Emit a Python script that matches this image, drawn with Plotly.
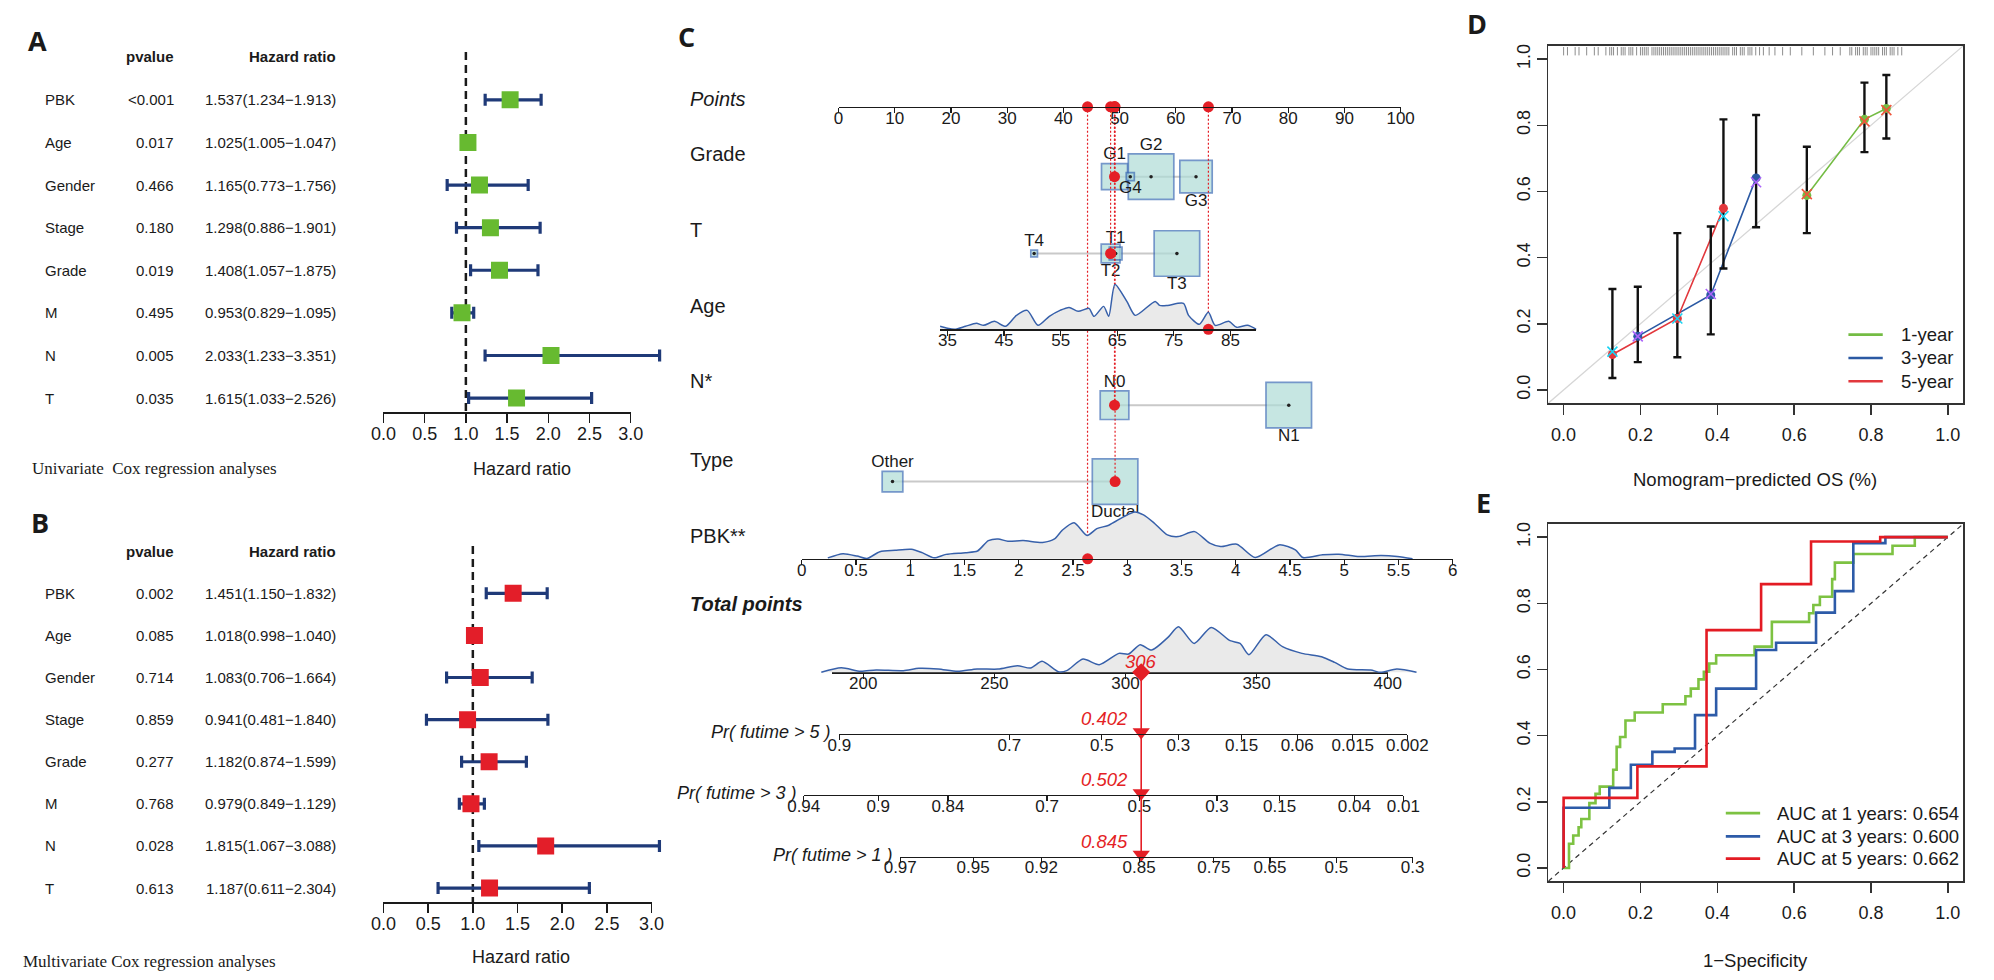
import math
import plotly.graph_objects as go

W, H = 1994, 980

# ============================ DATA ============================
# ---- A / B : Cox regression ----
variables = ["PBK", "Age", "Gender", "Stage", "Grade", "M", "N", "T"]
uni_pvalue = ["<0.001", "0.017", "0.466", "0.180", "0.019", "0.495", "0.005", "0.035"]
uni_hr = [1.537, 1.025, 1.165, 1.298, 1.408, 0.953, 2.033, 1.615]
uni_low = [1.234, 1.005, 0.773, 0.886, 1.057, 0.829, 1.233, 1.033]
uni_high = [1.913, 1.047, 1.756, 1.901, 1.875, 1.095, 3.351, 2.526]
multi_pvalue = ["0.002", "0.085", "0.714", "0.859", "0.277", "0.768", "0.028", "0.613"]
multi_hr = [1.451, 1.018, 1.083, 0.941, 1.182, 0.979, 1.815, 1.187]
multi_low = [1.150, 0.998, 0.706, 0.481, 0.874, 0.849, 1.067, 0.611]
multi_high = [1.832, 1.040, 1.664, 1.840, 1.599, 1.129, 3.088, 2.304]
hr_ticks = [0.0, 0.5, 1.0, 1.5, 2.0, 2.5, 3.0]

# ---- C : nomogram ----
points_ticks = [0, 10, 20, 30, 40, 50, 60, 70, 80, 90, 100]
grade_levels = ["G1", "G4", "G2", "G3"]
grade_points = [49.1, 51.9, 55.6, 63.6]
grade_counts = [31, 3, 95, 48]
t_levels = ["T4", "T2", "T1", "T3"]
t_points = [34.8, 48.4, 49.3, 60.2]
t_counts = [3, 24, 11, 141]
n_levels = ["N0", "N1"]
n_points = [49.1, 80.1]
n_counts = [49, 124]
type_levels = ["Other", "Ductal"]
type_points = [9.6, 49.2]
type_counts = [30, 146]

age_ticks = [35, 45, 55, 65, 75, 85]
age_grid = [33.7, 35.0, 36.3, 38.2, 40.1, 41.4, 43.3, 45.3, 47.2, 49.1, 51.0, 53.0, 54.9, 56.5, 58.1,
            60.0, 60.9, 62.6, 63.5, 64.6, 66.7, 68.2, 71.7, 72.5, 73.9, 76.7, 77.6, 79.5, 81.1, 82.3,
            84.7, 86.1, 88.0, 89.6]
age_density = [3, 1, 0, 3, 6, 4, 8, 3, 14, 19, 4, 13, 19, 22, 18, 21, 13, 23, 13, 45, 28, 14, 28, 24,
               24, 26, 14, 5, 17, 4, 8, 2, 4, 0]

pbk_ticks = [0, 0.5, 1, 1.5, 2, 2.5, 3, 3.5, 4, 4.5, 5, 5.5, 6]
pbk_grid = [0.24, 0.38, 0.51, 0.60, 0.72, 0.86, 1.01, 1.11, 1.22, 1.33, 1.51, 1.62, 1.72, 1.81, 1.90,
            2.04, 2.22, 2.33, 2.40, 2.51, 2.63, 2.72, 2.83, 2.97, 3.07, 3.15, 3.25, 3.37, 3.47, 3.62,
            3.76, 3.86, 4.01, 4.18, 4.40, 4.55, 4.62, 4.80, 4.95, 5.14, 5.34, 5.49, 5.63]
pbk_density = [1, 5.2, 2.8, 0.3, 7.2, 8.6, 9.6, 6.2, 1, 4.5, 6.2, 7.9, 18.3, 20, 17.6, 18.3, 16.5, 20,
               28.6, 36.2, 23.4, 30.3, 33.7, 42.4, 47, 44, 35.7, 24, 22.3, 27.3, 15.7, 12.3, 14.7, 1.3,
               14, 9, 1.3, 4, 4.7, 2.3, 3.3, 2.3, 0]

total_ticks = [200, 250, 300, 350, 400]
total_grid = [184, 191.6, 199, 204.9, 215.3, 221.2, 228.6, 236, 243.4, 251.4, 258.8, 263.8, 268.2,
              274.4, 277.6, 283.8, 290, 297.5, 301.2, 305.6, 310, 316.2, 320.2, 326.2, 332.7, 339.9,
              343.7, 347.1, 353.6, 359.9, 367.3, 374.8, 379.8, 384.8, 393.5, 397.3, 403.5, 411]
total_density = [0, 4.5, 1, 2.4, 1.7, 4.1, 3.4, 1, 3.4, 3.3, 6.7, 4.3, 11, 0.7, 1.7, 13.3, 7.7, 19,
                 18.3, 27.7, 22.3, 35, 45.7, 29, 45, 31.7, 29, 17.7, 37.7, 25.7, 19, 15.7, 10, 3.3,
                 2.3, 0, 3.3, 0]

pr5_labels = ["0.9", "0.7", "0.5", "0.3", "0.15", "0.06", "0.015", "0.002"]
pr5_at_points = [190.9, 255.7, 291.0, 320.2, 344.3, 365.5, 386.7, 407.5]
pr3_labels = ["0.94", "0.9", "0.84", "0.7", "0.5", "0.3", "0.15", "0.04", "0.01"]
pr3_at_points = [177.3, 205.7, 232.3, 270.1, 305.3, 334.9, 358.8, 387.3, 406.0]
pr1_labels = ["0.97", "0.95", "0.92", "0.85", "0.75", "0.65", "0.5", "0.3"]
pr1_at_points = [214.1, 241.9, 267.9, 305.2, 333.7, 355.1, 380.4, 409.5]

patient_vars = ["Grade", "T", "Age", "N", "Type", "PBK"]
patient_points = [49.1, 48.4, 65.8, 49.1, 49.2, 44.3]
patient_age = 81.1
patient_pbk = 2.635
patient_total = 306
patient_prob = [0.402, 0.502, 0.845]

# ---- D : calibration ----
cal_ticks = [0.0, 0.2, 0.4, 0.6, 0.8, 1.0]
cal_names = ["1-year", "3-year", "5-year"]
cal1_pred = [0.633, 0.783, 0.840]
cal1_obs = [0.588, 0.818, 0.851]
cal1_low = [0.474, 0.719, 0.760]
cal1_high = [0.735, 0.929, 0.952]
cal1_corr = [0.592, 0.812, 0.846]
cal3_pred = [0.193, 0.383, 0.501]
cal3_obs = [0.162, 0.287, 0.641]
cal3_low = [0.084, 0.168, 0.492]
cal3_high = [0.312, 0.494, 0.831]
cal3_corr = [0.162, 0.290, 0.628]
cal5_pred = [0.127, 0.296, 0.416]
cal5_obs = [0.107, 0.216, 0.549]
cal5_low = [0.036, 0.099, 0.367]
cal5_high = [0.305, 0.474, 0.818]
cal5_corr = [0.116, 0.216, 0.525]
rug_pred = [0.00, 0.01, 0.03, 0.04, 0.06, 0.08, 0.09, 0.11, 0.12, 0.125, 0.13, 0.14, 0.15, 0.155,
            0.16, 0.17, 0.175, 0.18, 0.19, 0.20, 0.205, 0.21, 0.215, 0.22, 0.23, 0.235, 0.24, 0.245,
            0.25, 0.255, 0.26, 0.265, 0.27, 0.275, 0.28, 0.285, 0.29, 0.295, 0.30, 0.305, 0.31,
            0.315, 0.32, 0.325, 0.33, 0.335, 0.34, 0.345, 0.35, 0.355, 0.36, 0.365, 0.37, 0.375,
            0.38, 0.385, 0.39, 0.395, 0.40, 0.405, 0.41, 0.415, 0.42, 0.425, 0.43, 0.44, 0.445,
            0.45, 0.46, 0.465, 0.47, 0.48, 0.485, 0.49, 0.50, 0.51, 0.52, 0.535, 0.55, 0.57, 0.59,
            0.62, 0.65, 0.68, 0.70, 0.72, 0.745, 0.75, 0.76, 0.765, 0.77, 0.78, 0.785, 0.79, 0.80,
            0.805, 0.81, 0.815, 0.82, 0.83, 0.835, 0.84, 0.85, 0.855, 0.86, 0.87, 0.88]

# ---- E : time-dependent ROC ----
roc_years = [1, 3, 5]
roc_auc = [0.654, 0.600, 0.662]
roc1_fpr = [0, 0.014, 0.025, 0.039, 0.046, 0.067, 0.083, 0.094, 0.129, 0.138, 0.147, 0.161, 0.185,
            0.258, 0.317, 0.331, 0.351, 0.365, 0.379, 0.397, 0.497, 0.542, 0.639, 0.650, 0.667,
            0.699, 0.706, 0.754, 0.856, 0.914, 1.0]
roc1_tpr = [0, 0.073, 0.098, 0.123, 0.148, 0.196, 0.224, 0.246, 0.297, 0.366, 0.396, 0.446, 0.470,
            0.495, 0.519, 0.542, 0.570, 0.593, 0.618, 0.643, 0.669, 0.744, 0.770, 0.795, 0.820,
            0.873, 0.923, 0.949, 0.974, 1.0, 1.0]
roc3_fpr = [0, 0, 0.119, 0.175, 0.231, 0.289, 0.342, 0.397, 0.501, 0.553, 0.657, 0.706, 0.754,
            0.8375, 1.0]
roc3_tpr = [0, 0.182, 0.242, 0.312, 0.351, 0.361, 0.462, 0.542, 0.659, 0.681, 0.772, 0.837, 0.982,
            1.0, 1.0]
roc5_fpr = [0, 0, 0.192, 0.372, 0.514, 0.644, 0.824, 1.0]
roc5_tpr = [0, 0.212, 0.307, 0.719, 0.858, 0.987, 1.0, 1.0]

# ============================ STYLE ============================
FONT = "Liberation Sans, Arial, Helvetica, sans-serif"
SERIF = "Liberation Serif, Times New Roman, serif"
LETTER = "Open Sans, Noto Sans, Liberation Sans, sans-serif"
INK = "#1a1a1a"
NAVY = "#1F3A78"
SQ_GREEN = "#67BA30"
SQ_RED = "#E31E29"
RED = "#E41F26"
BOX_FILL = "#AEDCD7"
BOX_EDGE = "#3B6CB4"
DENS_FILL = "#EAEAEA"
DENS_LINE = "#3760AA"
C1, C3, C5 = "#74BC44", "#2B59A3", "#E2383D"
X1, X3, X5 = "#4E8F3A", "#4F78BE", "#5A7CC0"
E1, E3, E5 = "#7DC242", "#2D5BA8", "#E31B23"


def fx(px):
    return px / W


def fy(py):
    return 1 - py / H


def akey(ref):
    return ref[0] + "axis" + ref[1:]


fig = go.Figure()
L = {}
ann = []
shapes = []


def hidden(xref, yref, xs, ys):
    fig.add_trace(go.Scatter(x=xs, y=ys, xaxis=xref, yaxis=yref, mode="markers",
                             marker=dict(opacity=0, size=1), hoverinfo="skip", showlegend=False))


def label(x_px, y_px, s, size, anchor="left", color=INK, family=FONT):
    ann.append(dict(x=fx(x_px), y=fy(y_px), xref="paper", yref="paper", text=s, showarrow=False,
                    xanchor=anchor, yanchor="middle", font=dict(size=size, color=color, family=family)))


def legend_box(names, colors, x_line0, x_line1, x_text, ys, width):
    for nm, c, yy in zip(names, colors, ys):
        shapes.append(dict(type="line", xref="paper", yref="paper", x0=fx(x_line0), x1=fx(x_line1),
                           y0=fy(yy), y1=fy(yy), line=dict(color=c, width=width)))
        label(x_text, yy, nm, 18.5)


# ============================ A / B forest ============================
def forest(xd, xt, ya, hr, lo, hi, pv, sq_color, row0, step, axis_py, dash_top, head_py,
           x0, ppu, letter, letter_xy, caption, cap_xy, xlab_py):
    r = lambda py: (py - row0) / step
    L[akey(ya)] = dict(domain=[0, 1], range=[r(H), r(0)], visible=False, fixedrange=True, anchor=xd)
    L[akey(xd)] = dict(domain=[fx(x0), fx(x0 + 3.4 * ppu)], range=[0, 3.4], visible=False,
                       anchor=ya, fixedrange=True)
    L[akey(xt)] = dict(domain=[fx(x0), fx(x0 + 3 * ppu)], range=[0, 3], anchor="free",
                       position=fy(axis_py), showline=True, linecolor=INK, linewidth=1.5,
                       ticks="outside", ticklen=9, tickwidth=1.5, tickcolor=INK, tickvals=hr_ticks,
                       ticktext=[f"{t:.1f}" for t in hr_ticks], tickfont=dict(size=18, color=INK),
                       ticklabelstandoff=-4, showgrid=False, zeroline=False, fixedrange=True)
    hidden(xt, ya, [0, 3], [r(axis_py)] * 2)
    fig.add_trace(go.Scatter(x=[1, 1], y=[r(dash_top), r(axis_py)], xaxis=xd, yaxis=ya, mode="lines",
                             line=dict(color=INK, width=2.5, dash="8px,5px"), hoverinfo="skip",
                             showlegend=False))
    rows = list(range(len(variables)))
    fig.add_trace(go.Scatter(
        x=hr, y=rows, xaxis=xd, yaxis=ya, mode="markers",
        marker=dict(symbol="square", size=17, color=sq_color, line=dict(width=0)),
        error_x=dict(type="data", symmetric=False,
                     array=[h - m for m, h in zip(hr, hi)],
                     arrayminus=[m - l for m, l in zip(hr, lo)],
                     color=NAVY, thickness=3.2, width=6),
        hoverinfo="skip", showlegend=False))
    for i, v in enumerate(variables):
        common = dict(xref="paper", yref=ya, y=i, showarrow=False, yanchor="middle",
                      font=dict(size=15, color=INK, family=FONT))
        ann.append(dict(x=fx(27), text=v, xanchor="left", **common))
        ann.append(dict(x=fx(162.5), text=pv[i].replace("<", "&lt;"), xanchor="right", **common))
        ann.append(dict(x=fx(327.5), text=f"{hr[i]:.3f}({lo[i]:.3f}\u2212{hi[i]:.3f})",
                        xanchor="right", **common))
    hcommon = dict(xref="paper", yref=ya, y=r(head_py), showarrow=False, yanchor="middle",
                   xanchor="right", font=dict(size=15, color=INK, family=FONT))
    ann.append(dict(x=fx(162.5), text="<b>pvalue</b>", **hcommon))
    ann.append(dict(x=fx(327.5), text="<b>Hazard ratio</b>", **hcommon))
    ann.append(dict(xref=xd, yref="paper", x=max(hi) / 2, y=fy(xlab_py), text="Hazard ratio",
                    showarrow=False, xanchor="center", yanchor="middle",
                    font=dict(size=18, color=INK, family=FONT)))
    label(letter_xy[0], letter_xy[1], f"<b>{letter}</b>", 27, "center", INK, LETTER)
    label(cap_xy[0], cap_xy[1], caption, 17, "left", INK, SERIF)


forest("x", "x2", "y", uni_hr, uni_low, uni_high, uni_pvalue, SQ_GREEN, 98.0, 42.7, 411, 50, 55,
       373.6, 84.0, "A", (21, 39), "Univariate\u00a0 Cox regression analyses", (13, 467.5), 467.5)
forest("x3", "x4", "y2", multi_hr, multi_low, multi_high, multi_pvalue, SQ_RED, 592.5, 42.2, 902, 545,
       550.4, 373.6, 91.1, "B", (23, 521.8), "Multivariate Cox regression analyses", (4, 961), 956.8)

# ============================ C nomogram ============================
ROW = {"Points": 105, "Grade": 175, "T": 252, "Age": 328, "N": 404, "Type": 480.6, "PBK": 558,
       "Total": 671.7, "Pr5": 733.5, "Pr3": 794.5, "Pr1": 856.3}
BOX_MAX = 45.5

pts_px = lambda v: 837.5 + v * 5.73
age_px = lambda a: 1121.6 + (a - 65) * 5.77
pbk_px = lambda v: 800 + v * 110.6
tot_px = lambda v: 1130 + (v - 300) * 2.673


def lin_axis(f, v0, v1):
    return dict(domain=[fx(f(v0)), fx(f(v1))], range=[v0, v1])


NOM_AX = dict(showline=True, linecolor=INK, linewidth=1.4, ticks="outside", ticklen=5, tickwidth=1.2,
              tickcolor=INK, tickfont=dict(size=17, color=INK), showgrid=False, zeroline=False,
              fixedrange=True, anchor="free", ticklabelstandoff=-10)

L["yaxis3"] = dict(domain=[0, 1], range=[H, 0], visible=False, anchor="free", position=0,
                   fixedrange=True)
L["xaxis5"] = dict(**lin_axis(pts_px, 0, 100), position=fy(ROW["Points"]), tickvals=points_ticks,
                   **NOM_AX)
L["xaxis6"] = dict(**lin_axis(age_px, age_grid[0], age_grid[-1]), position=fy(ROW["Age"]),
                   tickvals=age_ticks, **NOM_AX)
L["xaxis7"] = dict(**lin_axis(pbk_px, 0, 6), position=fy(ROW["PBK"]), tickvals=pbk_ticks,
                   ticktext=[f"{t:g}" for t in pbk_ticks], **NOM_AX)
L["xaxis8"] = dict(**lin_axis(tot_px, 187.9, 400), position=fy(ROW["Total"]), tickvals=total_ticks,
                   **NOM_AX)
L["xaxis9"] = dict(**lin_axis(tot_px, 182, 414), visible=False, anchor="y3", fixedrange=True)
for key, row, labs, at in [("xaxis10", "Pr5", pr5_labels, pr5_at_points),
                           ("xaxis11", "Pr3", pr3_labels, pr3_at_points),
                           ("xaxis12", "Pr1", pr1_labels, pr1_at_points)]:
    L[key] = dict(**lin_axis(tot_px, at[0], at[-1]), position=fy(ROW[row]), tickvals=at,
                  ticktext=labs, **NOM_AX)
    hidden("x" + key[5:], "y3", [at[0], at[-1]], [ROW[row]] * 2)
hidden("x8", "y3", [200, 400], [ROW["Total"]] * 2)


def density(xref, grid, dens, base):
    ys = [base - d for d in dens]
    fig.add_trace(go.Scatter(x=grid + grid[::-1], y=ys + [base] * len(grid), xaxis=xref, yaxis="y3",
                             mode="lines", fill="toself", fillcolor=DENS_FILL, line=dict(width=0),
                             hoverinfo="skip", showlegend=False))
    fig.add_trace(go.Scatter(x=grid, y=ys, xaxis=xref, yaxis="y3", mode="lines",
                             line=dict(color=DENS_LINE, width=1.5, shape="spline", smoothing=0.7),
                             hoverinfo="skip", showlegend=False))


density("x6", age_grid, age_density, ROW["Age"])
density("x7", pbk_grid, pbk_density, ROW["PBK"])
density("x9", total_grid, total_density, ROW["Total"])


def cat_row(levels, pts, counts, sides_lbl, row_py):
    mx = max(counts)
    sides = [BOX_MAX * math.sqrt(c / mx) for c in counts]
    fig.add_trace(go.Scatter(x=[min(pts), max(pts)], y=[row_py] * 2, xaxis="x5", yaxis="y3",
                             mode="lines", line=dict(color="#C9C9C9", width=2), hoverinfo="skip",
                             showlegend=False))
    order = sorted(range(len(pts)), key=lambda i: -sides[i])
    fig.add_trace(go.Scatter(x=[pts[i] for i in order], y=[row_py] * len(pts), xaxis="x5", yaxis="y3",
                             mode="markers",
                             marker=dict(symbol="square", size=[sides[i] for i in order],
                                         color=BOX_FILL, line=dict(color=BOX_EDGE, width=1.7)),
                             hoverinfo="skip", showlegend=False))
    fig.add_trace(go.Scatter(x=pts, y=[row_py] * len(pts), xaxis="x5", yaxis="y3", mode="markers",
                             marker=dict(size=3.5, color="#222"), hoverinfo="skip", showlegend=False))
    ly = [row_py - (s / 2 + 8.5) if side == "above" else row_py + (s / 2 + 8.5)
          for s, side in zip(sides, sides_lbl)]
    fig.add_trace(go.Scatter(x=pts, y=ly, xaxis="x5", yaxis="y3", mode="text", text=levels,
                             textfont=dict(size=17, color=INK, family=FONT), hoverinfo="skip",
                             showlegend=False))


cat_row(grade_levels, grade_points, grade_counts, ["above", "below", "above", "below"], ROW["Grade"])
cat_row(t_levels, t_points, t_counts, ["above", "below", "above", "below"], ROW["T"])
cat_row(n_levels, n_points, n_counts, ["above", "below"], ROW["N"])
cat_row(type_levels, type_points, type_counts, ["above", "below"], ROW["Type"])

# dotted red guides from each patient value up to the Points scale
for var, p in zip(patient_vars, patient_points):
    fig.add_trace(go.Scatter(x=[p, p], y=[ROW["Points"], ROW[var]], xaxis="x5",
                             yaxis="y3", mode="lines", line=dict(color=RED, width=1.2, dash="2px,2px"),
                             hoverinfo="skip", showlegend=False))

# patient red markers
cat_idx = [0, 1, 3, 4]
fig.add_trace(go.Scatter(x=[patient_points[i] for i in cat_idx],
                         y=[ROW[patient_vars[i]] for i in cat_idx], xaxis="x5", yaxis="y3",
                         mode="markers", marker=dict(size=11, color=RED), hoverinfo="skip",
                         showlegend=False))
fig.add_trace(go.Scatter(x=patient_points, y=[ROW["Points"]] * len(patient_points), xaxis="x5",
                         yaxis="y3", mode="markers", marker=dict(size=11, color=RED), cliponaxis=False,
                         hoverinfo="skip", showlegend=False))
fig.add_trace(go.Scatter(x=[patient_age], y=[ROW["Age"]], xaxis="x6", yaxis="y3", mode="markers",
                         marker=dict(size=11, color=RED), cliponaxis=False, hoverinfo="skip",
                         showlegend=False))
fig.add_trace(go.Scatter(x=[patient_pbk], y=[ROW["PBK"]], xaxis="x7", yaxis="y3", mode="markers",
                         marker=dict(size=11, color=RED), cliponaxis=False, hoverinfo="skip",
                         showlegend=False))
fig.add_trace(go.Scatter(x=[patient_total, patient_total], y=[ROW["Total"], ROW["Pr1"]], xaxis="x9",
                         yaxis="y3", mode="lines", line=dict(color=RED, width=1.6), hoverinfo="skip",
                         showlegend=False))
fig.add_trace(go.Scatter(x=[patient_total], y=[ROW["Total"]], xaxis="x9", yaxis="y3", mode="markers",
                         marker=dict(symbol="diamond", size=14, color=RED), hoverinfo="skip",
                         showlegend=False))
fig.add_trace(go.Scatter(x=[patient_total] * 3, y=[ROW["Pr5"] - 2, ROW["Pr3"] - 2, ROW["Pr1"] - 2],
                         xaxis="x9", yaxis="y3", mode="markers",
                         marker=dict(symbol="triangle-down", size=15, color=RED), hoverinfo="skip",
                         showlegend=False))
ann.append(dict(xref="x9", yref="paper", x=patient_total, y=fy(ROW["Total"] - 11),
                text=f"<i>{patient_total}</i>", showarrow=False, xanchor="center", yanchor="middle",
                font=dict(size=18.5, color=RED, family=FONT)))
for row, pr in zip(["Pr5", "Pr3", "Pr1"], patient_prob):
    ann.append(dict(xref="x9", yref="paper", x=patient_total, y=fy(ROW[row] - 15.5),
                    text=f"<i>{pr:.3f}</i>", showarrow=False, xanchor="right", xshift=-11,
                    yanchor="middle", font=dict(size=18.5, color=RED, family=FONT)))

# nomogram row names
label(682, 35, "<b>C</b>", 27, "center", INK, LETTER)
for name, yy in [("<i>Points</i>", 97), ("Grade", 152), ("T", 228), ("Age", 305), ("N*", 380),
                 ("Type", 459), ("PBK**", 535)]:
    label(684, yy, name, 20)
label(684, 603.6, "<b><i>Total points</i></b>", 20)
for txt, xr, row in [("Pr( futime &gt; 5 )", 832, "Pr5"), ("Pr( futime &gt; 3 )", 797, "Pr3"),
                     ("Pr( futime &gt; 1 )", 895, "Pr1")]:
    label(xr, ROW[row] - 2, f"<i>{txt}</i>", 18, "right")

# ============================ D calibration ============================
DAX = dict(showline=True, mirror=True, linecolor="#333", linewidth=1.5, ticks="outside", ticklen=10,
           tickwidth=1.5, tickcolor="#333", tickvals=cal_ticks,
           ticktext=[f"{t:.1f}" for t in cal_ticks], tickfont=dict(size=18, color=INK),
           showgrid=False, zeroline=False, fixedrange=True, range=[-0.04, 1.04])
L["xaxis13"] = dict(domain=[fx(1561), fx(1984)], anchor="y4", ticklabelstandoff=5, **DAX)
L["yaxis4"] = dict(domain=[fy(402), fy(44)], anchor="x13", tickangle=-90, ticklabelstandoff=0, **DAX)
L["xaxis14"] = dict(domain=[fx(1561), fx(1984)], anchor="y5", ticklabelstandoff=5, **DAX)
L["yaxis5"] = dict(domain=[fy(881), fy(523)], anchor="x14", tickangle=-90, ticklabelstandoff=0, **DAX)

fig.add_trace(go.Scatter(x=[-0.04, 1.04], y=[-0.04, 1.04], xaxis="x13", yaxis="y4", mode="lines",
                         line=dict(color="#D6D6D6", width=1.2), hoverinfo="skip", showlegend=False))
fig.add_trace(go.Scatter(x=rug_pred, y=[1.024] * len(rug_pred), xaxis="x13", yaxis="y4",
                         mode="markers",
                         marker=dict(symbol="line-ns", size=6, line=dict(color="#707070", width=0.8)),
                         hoverinfo="skip", showlegend=False))
cal_sets = [(C1, X1, cal1_pred, cal1_obs, cal1_low, cal1_high, cal1_corr),
            (C3, X3, cal3_pred, cal3_obs, cal3_low, cal3_high, cal3_corr),
            (C5, X5, cal5_pred, cal5_obs, cal5_low, cal5_high, cal5_corr)]
for c, xc, pr, ob, lo, hi, co in cal_sets:
    fig.add_trace(go.Scatter(x=pr, y=ob, xaxis="x13", yaxis="y4", mode="lines",
                             line=dict(color=c, width=1.6), hoverinfo="skip", showlegend=False))
for c, xc, pr, ob, lo, hi, co in cal_sets:
    fig.add_trace(go.Scatter(
        x=pr, y=ob, xaxis="x13", yaxis="y4", mode="markers",
        marker=dict(size=9, color=c),
        error_y=dict(type="data", symmetric=False, array=[h - o for o, h in zip(ob, hi)],
                     arrayminus=[o - l for o, l in zip(ob, lo)], color="#111", thickness=2.4, width=4),
        hoverinfo="skip", showlegend=False))
    fig.add_trace(go.Scatter(x=pr, y=co, xaxis="x13", yaxis="y4", mode="markers",
                             marker=dict(symbol="x-thin-open", size=10, line=dict(color=xc, width=1.6)),
                             hoverinfo="skip", showlegend=False))
legend_box(cal_names, [C1, C3, C5], 1867, 1902, 1919, [333.3, 356.7, 380], 2.6)

label(1488, 22, "<b>D</b>", 27, "center", INK, LETTER)
label(1772, 478, "Nomogram\u2212predicted OS (%)", 18.5, "center")

# ============================ E ROC ============================
fig.add_trace(go.Scatter(x=[-0.04, 1.04], y=[-0.04, 1.04], xaxis="x14", yaxis="y5", mode="lines",
                         line=dict(color="#333", width=1.2, dash="5px,4px"), hoverinfo="skip",
                         showlegend=False))
for c, fpr, tpr in [(E1, roc1_fpr, roc1_tpr), (E3, roc3_fpr, roc3_tpr), (E5, roc5_fpr, roc5_tpr)]:
    fig.add_trace(go.Scatter(x=fpr, y=tpr, xaxis="x14", yaxis="y5", mode="lines",
                             line=dict(color=c, width=2.6, shape="hv"), hoverinfo="skip",
                             showlegend=False))
legend_box([f"AUC at {y} years: {a:.3f}" for y, a in zip(roc_years, roc_auc)], [E1, E3, E5],
           1742, 1777, 1792, [812.7, 836, 858.3], 2.8)
label(1495, 502, "<b>E</b>", 27, "center", INK, LETTER)
label(1772, 960, "1\u2212Specificity", 18.5, "center")

# ============================ LAYOUT ============================
fig.update_layout(
    width=W, height=H, margin=dict(l=0, r=0, t=0, b=0, pad=0),
    paper_bgcolor="white", plot_bgcolor="rgba(0,0,0,0)",
    font=dict(family=FONT, color=INK), hovermode=False, showlegend=False,
    annotations=ann, shapes=shapes,
    **L,
)

fig.write_html("out.html", config={"displayModeBar": False, "staticPlot": True},
               post_script="document.body.style.margin='0px';document.body.style.overflow='hidden';")
